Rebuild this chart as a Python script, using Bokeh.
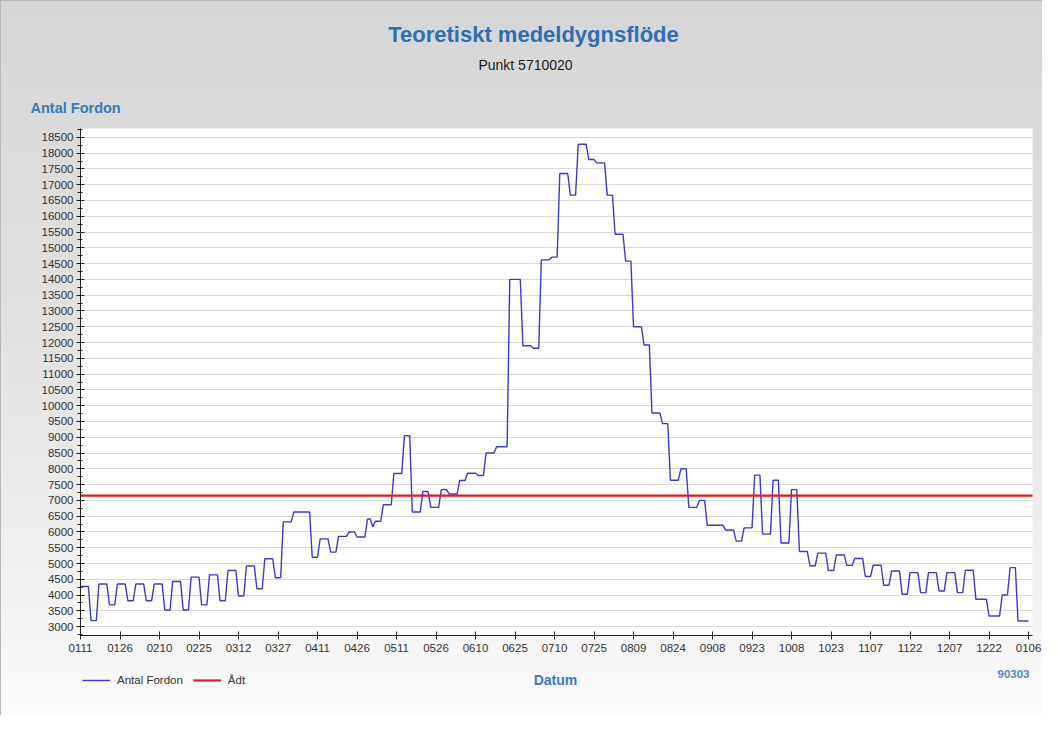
import numpy as np
import pandas as pd
from bokeh.plotting import figure
from bokeh.models import (Range1d, FixedTicker, SingleIntervalTicker, Label, Legend,
                          LegendItem, BoxAnnotation)
from bokeh.embed import file_html
from bokeh.resources import INLINE

# ---------------- data ----------------
title_text = "Teoretiskt medeldygnsflöde"
subtitle_text = "Punkt 5710020"
y_title = "Antal Fordon"
x_title = "Datum"
series_name = "Antal Fordon"
adt_name = "Ådt"
corner_text = "90303"
start_date = "2009-01-11"

tick_labels = ["0111", "0126", "0210", "0225", "0312", "0327", "0411", "0426",
               "0511", "0526", "0610", "0625", "0710", "0725", "0809", "0824",
               "0908", "0923", "1008", "1023", "1107", "1122", "1207", "1222", "0106"]

# daily flow as runs of equal days: value and number of days
run_values = [4270, 3190, 4350, 3690, 4350, 3820, 4350, 3820, 4350, 3530,
              4430, 3530, 4570, 3690, 4640, 3820, 4780, 3970, 4920, 4200,
              5150, 4550, 6320, 6630, 5200, 5780, 5360, 5860, 6000, 5840,
              6410, 6160, 6340, 6860, 7850, 9050, 6630, 7280, 6780, 7340,
              7200, 7630, 7860, 7790, 8500, 8700, 14000, 11900, 11820, 14620,
              14705, 17355, 16670, 18280, 17800, 17690, 16670, 15430, 14580, 12500,
              11920, 9770, 9430, 7640, 8000, 6780, 7000, 6210, 6060, 5710,
              6130, 7800, 5930, 7640, 5650, 7340, 5380, 4930, 5330, 4780,
              5270, 4940, 5160, 4590, 4945, 4310, 4765, 4025, 4712, 4078,
              4712, 4131, 4712, 4078, 4786, 3867, 3338, 4004, 4871, 3180]
run_days = [4, 3, 4, 3, 4, 3, 4, 3, 4, 3,
            4, 3, 4, 3, 4, 3, 4, 3, 4, 3,
            4, 3, 4, 7, 3, 4, 3, 4, 3, 4,
            2, 1, 3, 4, 4, 3, 4, 3, 4, 3,
            4, 3, 4, 3, 4, 5, 5, 4, 3, 4,
            3, 4, 3, 4, 3, 4, 3, 4, 3, 4,
            3, 4, 3, 4, 3, 4, 3, 7, 4, 3,
            4, 3, 4, 3, 4, 3, 4, 3, 4, 3,
            4, 3, 4, 3, 4, 3, 4, 3, 4, 3,
            4, 3, 4, 3, 4, 5, 5, 3, 3, 5]
adt_value = 7150

# ---------------- build ----------------
start = pd.Timestamp(start_date)
daily_values = np.repeat(run_values, run_days)
dates = pd.date_range(start, periods=len(daily_values), freq="D")
day_num = np.asarray((dates - start).days)

tick_days = []
for lab in tick_labels:
    d = pd.Timestamp(year=start.year, month=int(lab[:2]), day=int(lab[2:]))
    if d < start:
        d = d.replace(year=start.year + 1)
    tick_days.append(int((d - start).days))

# layout (figure pixels); the plot frame covers the whole canvas
W, H = 1042, 715
PL, PR, PT, PB = 80, 1032, 128, 635          # white plot area inside the canvas
X0, X1 = 0.0, 361.5                          # visible data extent of the plot area
Y0, Y1 = 2720.0, 18780.0
sx = (X1 - X0) / (PR - PL)
sy = (Y1 - Y0) / (PB - PT)
x_range = Range1d(X0 - PL * sx, X1 + (W - PR) * sx)
y_range = Range1d(Y0 - (H - PB) * sy, Y1 + PT * sy)

FONT = "Liberation Sans"
BLUE_T = "#2f6db5"
BLUE_L = "#3a78c0"

p = figure(width=W, height=H, output_backend="svg", toolbar_location=None,
           x_range=x_range, y_range=y_range,
           min_border_left=0, min_border_right=0, min_border_top=0, min_border_bottom=0)
p.title.visible = False
p.border_fill_alpha = 0
p.background_fill_alpha = 0
p.outline_line_color = None
p.styles = {"background": "linear-gradient(180deg, #d6d6d6 0%, #e1e1e1 45%, #f3f3f3 85%, #fbfbfb 100%)",
            "box-shadow": "inset 1px 1px 0 #b8b8b8"}

p.add_layout(BoxAnnotation(left=X0, right=X1, bottom=Y0, top=Y1, fill_color="white",
                           fill_alpha=1, line_alpha=0, level="image"))

blue = p.line(day_num, daily_values, line_color="#3b3bc8", line_width=1.4)
red = p.line([X0, X1], [adt_value, adt_value], line_color="#e3191c", line_width=2.2)

# axes drawn at fixed locations inside the frame
p.xaxis.ticker = FixedTicker(ticks=tick_days)
p.xaxis.major_label_overrides = {d: lab for d, lab in zip(tick_days, tick_labels)}
p.yaxis.ticker = SingleIntervalTicker(interval=500, num_minor_ticks=2)
p.xaxis.fixed_location = Y0
p.yaxis.fixed_location = X0
p.xaxis.bounds = (X0, X1)
p.yaxis.bounds = (Y0, Y1)
for ax in (p.xaxis[0], p.yaxis[0]):
    ax.axis_line_color = "#222222"
    ax.major_tick_line_color = "#222222"
    ax.minor_tick_line_color = "#222222"
    ax.major_tick_in = 4
    ax.major_tick_out = 4
    ax.major_label_text_font = FONT
    ax.major_label_text_font_size = "11.5px"
    ax.major_label_text_color = "#333333"
p.xaxis.minor_tick_line_color = None
p.yaxis.minor_tick_in = 2
p.yaxis.minor_tick_out = 3
p.yaxis.major_label_standoff = 3
p.xaxis.major_label_standoff = 4

p.xgrid.grid_line_color = None
p.ygrid.grid_line_color = "#d8d8d8"
p.ygrid.grid_line_width = 1
p.ygrid.bounds = (Y0, Y1)
p.ygrid.cross_bounds = (X0, X1)

# texts (screen units: pixels from the canvas bottom-left)
def lab(x, y, text, align, size, color, bold=False):
    p.add_layout(Label(x=x, y=H - y, x_units="screen", y_units="screen", text=text,
                       text_align=align, text_baseline="middle", text_font=FONT,
                       text_font_style="bold" if bold else "normal",
                       text_font_size=size, text_color=color))

lab(533, 34, title_text, "center", "22px", BLUE_T, True)
lab(525, 64, subtitle_text, "center", "14px", "#1a1a1a")
lab(30, 107, y_title, "left", "14.5px", BLUE_L, True)
lab(555, 679, x_title, "center", "14px", BLUE_L, True)
lab(1029, 673, corner_text, "right", "11.5px", "#4f88c8", True)

legend = Legend(items=[LegendItem(label=series_name, renderers=[blue]),
                       LegendItem(label=adt_name, renderers=[red])],
                orientation="horizontal", location=(82, H - 687),
                padding=0, margin=0, spacing=10, glyph_width=28, glyph_height=14,
                label_standoff=7, label_height=14, background_fill_alpha=0,
                border_line_alpha=0, label_text_font=FONT, label_text_font_size="11.5px",
                label_text_color="#333333")
p.add_layout(legend, "center")

open("out.html", "w").write(file_html(p, INLINE))
